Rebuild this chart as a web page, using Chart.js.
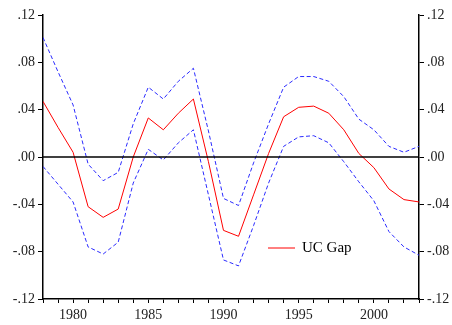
<!DOCTYPE html>
<html>
<head>
<meta charset="utf-8">
<script src="https://cdn.jsdelivr.net/npm/chart.js@4"></script>
<style>
    body { margin: 0; background: #fff; }
    #wrap { width: 452px; height: 325px; }
</style>
</head>
<body>
<div id="wrap"><canvas id="grafico"></canvas></div>
<script>
// dados
const anos = [1978, 1979, 1980, 1981, 1982, 1983, 1984, 1985, 1986, 1987, 1988, 1989, 1990,
    1991, 1992, 1993, 1994, 1995, 1996, 1997, 1998, 1999, 2000, 2001, 2002, 2003]
const ucGap = [0.047, 0.025, 0.004, -0.042, -0.051, -0.044, 0.000, 0.033, 0.023, 0.037, 0.049, -0.004, -0.062,
    -0.067, -0.032, 0.003, 0.034, 0.042, 0.043, 0.037, 0.023, 0.003, -0.009, -0.027, -0.036, -0.038]
const bandaSup = [0.101, 0.072, 0.044, -0.006, -0.020, -0.013, 0.028, 0.059, 0.049, 0.064, 0.075, 0.022, -0.035,
    -0.041, -0.005, 0.028, 0.059, 0.068, 0.068, 0.064, 0.051, 0.032, 0.023, 0.009, 0.004, 0.009]
const bandaInf = [-0.008, -0.023, -0.038, -0.076, -0.082, -0.072, -0.022, 0.0065, -0.0025, 0.012, 0.023, -0.032, -0.087,
    -0.092, -0.058, -0.022, 0.009, 0.017, 0.018, 0.012, -0.004, -0.021, -0.037, -0.063, -0.076, -0.083]
const rotuloLegenda = 'UC Gap'

const fonte = { family: '"Liberation Serif", "Times New Roman", serif', size: 14 }

function pares(valores) {
    return anos.map((a, i) => ({ x: a, y: valores[i] }))
}

function formataY(v) {
    let s = Math.abs(v).toFixed(2).replace(/^0/, '')
    return (v < -1e-9 ? '-' : '') + s
}

// legenda desenhada dentro do grafico
const legendaPlugin = {
    id: 'legendaDentro',
    afterDatasetsDraw(chart) {
        const ctx = chart.ctx
        const area = chart.chartArea
        const y = area.bottom - 51
        const x0 = area.right - 151
        ctx.save()
        ctx.strokeStyle = '#ff0000'
        ctx.lineWidth = 1
        ctx.beginPath()
        ctx.moveTo(x0, y)
        ctx.lineTo(x0 + 27, y)
        ctx.stroke()
        ctx.fillStyle = '#000'
        ctx.font = '15px "Liberation Serif", serif'
        ctx.textBaseline = 'middle'
        ctx.fillText(rotuloLegenda, x0 + 34, y)
        ctx.restore()
    }
}

const eixoY = {
    min: -0.12,
    max: 0.12,
    border: { display: true, color: '#000', width: 1.5 },
    grid: { drawOnChartArea: false, drawTicks: true, tickLength: 5, color: '#000' },
    ticks: { stepSize: 0.04, color: '#222', font: fonte, padding: 3, callback: formataY }
}

const grafico = new Chart(document.getElementById('grafico'), {
    type: 'line',
    data: {
        datasets: [
            {
                label: 'zero',
                data: [{ x: anos[0], y: 0 }, { x: anos[anos.length - 1], y: 0 }],
                borderColor: '#000',
                borderWidth: 1.3,
                pointRadius: 0
            },
            {
                label: 'sup',
                data: pares(bandaSup),
                borderColor: '#2b2bff',
                borderWidth: 1,
                borderDash: [4, 2.5],
                pointRadius: 0,
                tension: 0
            },
            {
                label: 'inf',
                data: pares(bandaInf),
                borderColor: '#2b2bff',
                borderWidth: 1,
                borderDash: [4, 2.5],
                pointRadius: 0,
                tension: 0
            },
            {
                label: rotuloLegenda,
                data: pares(ucGap),
                borderColor: '#ff0000',
                borderWidth: 1,
                pointRadius: 0,
                tension: 0
            }
        ]
    },
    options: {
        responsive: true,
        maintainAspectRatio: false,
        animation: false,
        layout: { padding: { top: 15, left: 0, right: 0, bottom: 0 } },
        plugins: { legend: { display: false }, tooltip: { enabled: false } },
        scales: {
            x: {
                type: 'linear',
                min: 1978,
                max: 2003,
                border: { display: true, color: '#000', width: 1.5 },
                grid: { drawOnChartArea: false, drawTicks: true, tickLength: 4, color: '#000' },
                ticks: {
                    stepSize: 1,
                    autoSkip: false,
                    maxRotation: 0,
                    color: '#222',
                    font: fonte,
                    padding: 4,
                    callback: v => (v % 5 === 0 ? String(v) : '')
                },
                afterFit: s => { s.height = 26 }
            },
            y: Object.assign({}, eixoY, {
                position: 'left',
                afterFit: s => { s.width = 43 }
            }),
            y2: Object.assign({}, eixoY, {
                position: 'right',
                afterFit: s => { s.width = 33 }
            })
        }
    },
    plugins: [legendaPlugin]
})
</script>
</body>
</html>
